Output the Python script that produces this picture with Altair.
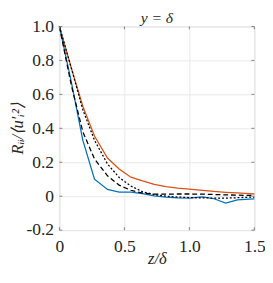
import altair as alt
import pandas as pd

z = [0.0, 0.09, 0.18, 0.27, 0.37, 0.46, 0.55, 0.64, 0.73, 0.82, 0.91, 1.0, 1.1, 1.19, 1.28, 1.37, 1.46, 1.5]
blue = [1.0, 0.68, 0.33, 0.10, 0.04, 0.024, 0.024, 0.015, 0.002, -0.005, -0.01, -0.011, -0.004, -0.015, -0.04, -0.022, -0.017, -0.016]
orange = [1.0, 0.76, 0.53, 0.355, 0.225, 0.16, 0.112, 0.09, 0.07, 0.056, 0.048, 0.042, 0.035, 0.028, 0.023, 0.019, 0.015, 0.013]
dotted = [1.0, 0.76, 0.51, 0.33, 0.19, 0.11, 0.06, 0.026, 0.01, 0.0, -0.005, -0.008, -0.01, -0.011, -0.011, -0.009, -0.006, -0.005]
dashed = [1.0, 0.66, 0.38, 0.22, 0.12, 0.065, 0.035, 0.018, 0.012, 0.012, 0.013, 0.013, 0.012, 0.01, 0.008, 0.006, 0.005, 0.004]

x_ticks = [0, 0.5, 1.0, 1.5]
y_ticks = [-0.2, 0, 0.2, 0.4, 0.6, 0.8, 1.0]
title_text = "y = δ"

rows = []
for name, vals in [("blue", blue), ("orange", orange), ("dotted", dotted), ("dashed", dashed)]:
    for zi, v in zip(z, vals):
        rows.append({"z": zi, "R": v, "s": name})
df = pd.DataFrame(rows)

FONT = "Liberation Serif"
label_expr = "datum.value == 0 ? '0' : replace(format(datum.value, '.1f'), '\u2212', '-')"

xs = alt.Scale(domain=[0, 1.5], nice=False)
ys = alt.Scale(domain=[-0.2, 1.0], nice=False)

xaxis = alt.Axis(values=x_ticks, labelExpr=label_expr, title="z/δ", labelPadding=8,
                 titleX=100.5, titleY=34, titleBaseline="alphabetic", titleAlign="center")
yaxis = alt.Axis(values=y_ticks, labelExpr=label_expr, title="Rᵢᵢ/⟨u′ᵢ²⟩", labelPadding=6,
                 titleX=-38, titleY=105, titleBaseline="alphabetic", titleAlign="center", titleAngle=270)

base = alt.Chart(df)

def series(name, color, dash):
    kw = {}
    if dash:
        kw["strokeDash"] = dash
    return base.transform_filter(alt.datum.s == name).mark_line(color=color, strokeWidth=1.3, **kw).encode(
        x=alt.X("z:Q", scale=xs, axis=xaxis),
        y=alt.Y("R:Q", scale=ys, axis=yaxis),
    )

lines = [
    series("orange", "#D95319", None),
    series("blue", "#0072BD", None),
    series("dotted", "#000000", [2, 2]),
    series("dashed", "#000000", [5, 3]),
]

xt = pd.DataFrame({"t": x_ticks})
yt = pd.DataFrame({"t": y_ticks})
tick_col = "#808080"
xtb = alt.Chart(xt).mark_rule(color=tick_col).encode(x=alt.X("t:Q", scale=xs, axis=xaxis), y=alt.value(210), y2=alt.value(207))
xtt = alt.Chart(xt).mark_rule(color=tick_col).encode(x=alt.X("t:Q", scale=xs, axis=xaxis), y=alt.value(0), y2=alt.value(3))
ytl = alt.Chart(yt).mark_rule(color=tick_col).encode(y=alt.Y("t:Q", scale=ys, axis=yaxis), x=alt.value(0), x2=alt.value(3))
ytr = alt.Chart(yt).mark_rule(color=tick_col).encode(y=alt.Y("t:Q", scale=ys, axis=yaxis), x=alt.value(201), x2=alt.value(198))

ttl = alt.Chart(pd.DataFrame({"t": [title_text]})).mark_text(
    font=FONT, fontSize=16, fontStyle="italic", color="#262626", baseline="alphabetic", align="center"
).encode(text="t:N", x=alt.value(100.5), y=alt.value(-4))

chart = alt.layer(*lines, xtb, xtt, ytl, ytr, ttl).properties(
    width=201, height=210,
    autosize=alt.AutoSizeParams(type="none"),
    padding={"left": 53, "top": 15, "right": 11, "bottom": 36},
).configure_view(stroke="#808080", strokeWidth=1).configure(background="white").configure_axis(
    grid=True, gridColor="#e8e8e8", ticks=False, domain=False,
    labelOverlap=False, labelFlush=False,
    labelFont=FONT, labelFontSize=18, labelColor="#262626",
    titleFont=FONT, titleFontSize=17, titleFontWeight="normal", titleFontStyle="italic", titleColor="#262626",
)

chart.save("out.html", embed_options={"renderer": "svg", "actions": False})
